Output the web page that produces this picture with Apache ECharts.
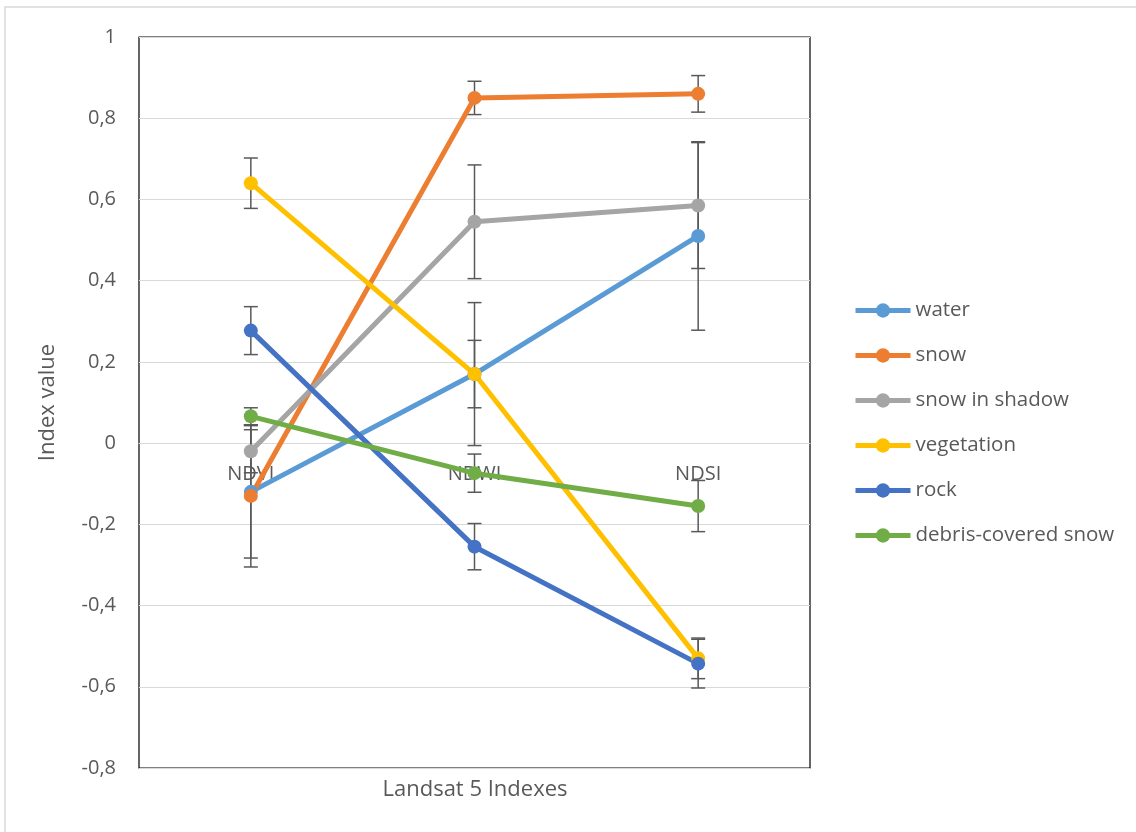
<!DOCTYPE html>
<html>
<head>
<meta charset="utf-8">
<script src="https://cdn.jsdelivr.net/npm/echarts@6/dist/echarts.min.js"></script>
<style>
html,body{margin:0;padding:0;background:#fff;}
#main{width:1136px;height:832px;}
</style>
</head>
<body>
<div id="main"></div>
<script>
// Landsat 5 indexes: mean values and error (+/-) per class
var categories = ['NDVI', 'NDWI', 'NDSI'];
var seriesNames = ['water', 'snow', 'snow in shadow', 'vegetation', 'rock', 'debris-covered snow'];
var colors = ['#5B9BD5', '#ED7D31', '#A5A5A5', '#FFC000', '#4472C4', '#70AD47'];

var water = [-0.12, 0.17, 0.51];
var snow = [-0.13, 0.85, 0.86];
var snowShadow = [-0.02, 0.545, 0.585];
var vegetation = [0.64, 0.17, -0.53];
var rock = [0.277, -0.255, -0.543];
var debris = [0.066, -0.074, -0.155];

var waterErr = [0.163, 0.083, 0.232];
var snowErr = [0.175, 0.041, 0.045];
var snowShadowErr = [0.053, 0.14, 0.155];
var vegetationErr = [0.062, 0.176, 0.05];
var rockErr = [0.059, 0.057, 0.06];
var debrisErr = [0.021, 0.047, 0.063];

var values = [water, snow, snowShadow, vegetation, rock, debris];
var errors = [waterErr, snowErr, snowShadowErr, vegetationErr, rockErr, debrisErr];

var font = 'Open Sans';
var series = [];

for (var i = 0; i < seriesNames.length; i++) {
	var errData = [];
	for (var j = 0; j < categories.length; j++) {
		errData.push([j, values[i][j] - errors[i][j], values[i][j] + errors[i][j]]);
	}
	series.push({
		name: seriesNames[i] + ' err',
		type: 'custom',
		z: 1,
		silent: true,
		data: errData,
		renderItem: function (params, api) {
			var lo = api.coord([api.value(0), api.value(1)]);
			var hi = api.coord([api.value(0), api.value(2)]);
			var cap = 7;
			var st = { stroke: '#595959', lineWidth: 1.5 };
			return {
				type: 'group',
				children: [
					{ type: 'line', shape: { x1: lo[0], y1: lo[1], x2: hi[0], y2: hi[1] }, style: st },
					{ type: 'line', shape: { x1: lo[0] - cap, y1: lo[1], x2: lo[0] + cap, y2: lo[1] }, style: st },
					{ type: 'line', shape: { x1: hi[0] - cap, y1: hi[1], x2: hi[0] + cap, y2: hi[1] }, style: st }
				]
			};
		}
	});
}

for (var i = 0; i < seriesNames.length; i++) {
	series.push({
		name: seriesNames[i],
		type: 'line',
		z: 3,
		data: values[i],
		symbol: 'circle',
		symbolSize: 14,
		lineStyle: { width: 5, color: colors[i] },
		itemStyle: { color: colors[i] }
	});
}

var myChart = echarts.init(document.getElementById('main'));
var option = {
	animation: false,
	color: colors,
	textStyle: { fontFamily: font },
	grid: {
		left: 139, right: 326, top: 37, bottom: 64,
		show: true, borderColor: '#000', borderWidth: 1.2, backgroundColor: 'transparent'
	},
	legend: {
		data: seriesNames,
		orient: 'vertical',
		left: 848,
		top: 295,
		itemWidth: 55,
		itemHeight: 18,
		itemGap: 24,
		lineStyle: { width: 5 },
		textStyle: { fontSize: 20.5, color: '#595959', fontFamily: font }
	},
	xAxis: {
		type: 'category',
		data: categories,
		offset: -325,
		axisLine: { onZero: false, lineStyle: { color: '#d9d9d9' } },
		axisTick: { show: false },
		axisLabel: { fontSize: 20, color: '#595959', margin: 21 }
	},
	yAxis: {
		type: 'value',
		min: -0.8,
		max: 1,
		interval: 0.2,
		name: 'Index value',
		nameLocation: 'middle',
		nameGap: 80,
		nameTextStyle: { fontSize: 22, color: '#595959' },
		axisLine: { show: false },
		axisTick: { show: false },
		splitLine: { lineStyle: { color: '#d9d9d9', width: 1.2 } },
		axisLabel: {
			fontSize: 20, color: '#595959', margin: 23,
			formatter: function (v) { return String(Math.round(v * 10) / 10).replace('.', ','); }
		}
	},
	graphic: [{
		type: 'rect',
		z: -10,
		silent: true,
		shape: { x: 5, y: 7, width: 1200, height: 900 },
		style: { fill: 'none', stroke: '#d9d9d9', lineWidth: 1.5 }
	}, {
		type: 'text',
		x: 475,
		y: 790,
		style: { text: 'Landsat 5 Indexes', fontSize: 22, fill: '#595959', fontFamily: font, align: 'center', verticalAlign: 'middle' }
	}],
	series: series
};
myChart.setOption(option);
</script>
</body>
</html>
